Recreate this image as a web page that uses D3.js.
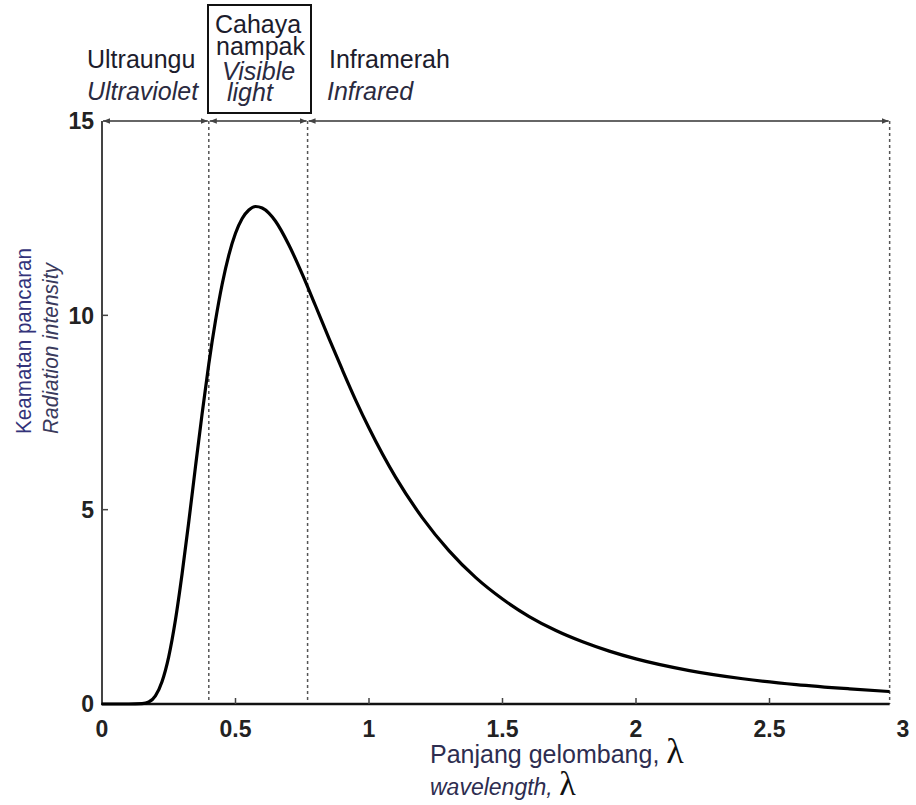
<!DOCTYPE html>
<html>
<head>
<meta charset="utf-8">
<script src="https://cdn.jsdelivr.net/npm/d3@7"></script>
<style>
  html, body { margin: 0; padding: 0; background: #fff; }
  svg { display: block; }
  text { font-family: "Liberation Sans", Arial, sans-serif; }
</style>
</head>
<body>
<svg id="chart" width="916" height="805"></svg>
<script>
// ---- data ----
const wavelength = [0, 0.1, 0.15, 0.175, 0.2, 0.225, 0.25, 0.275, 0.3, 0.325, 0.35, 0.375, 0.4, 0.425, 0.45, 0.475,
  0.5, 0.525, 0.55, 0.575, 0.6, 0.625, 0.65, 0.7, 0.75, 0.8, 0.85, 0.9, 0.95, 1.0, 1.1, 1.2, 1.3, 1.4, 1.5,
  1.6, 1.7, 1.8, 1.9, 2.0, 2.2, 2.4, 2.6, 2.8, 2.95];
const intensity = [0, 0, 0.01, 0.05, 0.21, 0.58, 1.22, 2.16, 3.35, 4.69, 6.10, 7.47, 8.75, 9.86, 10.80, 11.55,
  12.11, 12.49, 12.71, 12.80, 12.76, 12.63, 12.42, 11.81, 11.06, 10.24, 9.41, 8.60, 7.82, 7.10, 5.83, 4.79, 3.94, 3.25, 2.70,
  2.25, 1.89, 1.60, 1.36, 1.16, 0.86, 0.65, 0.50, 0.39, 0.32];
const xTicks = [0, 0.5, 1, 1.5, 2, 2.5, 3];
const xTickLabels = ["0", "0.5", "1", "1.5", "2", "2.5", "3"];
const yTicks = [0, 5, 10, 15];
const yTickLabels = ["0", "5", "10", "15"];
const bandEdges = [0, 0.4, 0.77, 2.95];          // region boundaries
const bandLabels = [
  { main: "Ultraungu", en: "Ultraviolet" },
  { main: ["Cahaya", "nampak"], en: ["Visible", "light"] },
  { main: "Inframerah", en: "Infrared" }
];
const xTitle = ["Panjang gelombang, ", "wavelength, "];
const yTitle = ["Keamatan pancaran", "Radiation intensity"];

// ---- scales ----
const svg = d3.select("#chart");
const x = d3.scaleLinear().domain([0, 3]).range([102, 903]);
const y = d3.scaleLinear().domain([0, 15]).range([704, 121]);
const xEnd = bandEdges[bandEdges.length - 1];

// arrow marker
const defs = svg.append("defs");
defs.append("marker")
  .attr("id", "arr").attr("viewBox", "0 0 10 10")
  .attr("refX", 10).attr("refY", 5)
  .attr("markerWidth", 7).attr("markerHeight", 7)
  .attr("markerUnits", "userSpaceOnUse")
  .attr("orient", "auto-start-reverse")
  .append("path").attr("d", "M0,1 L10,5 L0,9 Z").attr("fill", "#444");

// ---- dashed region boundaries ----
svg.append("g").selectAll("line").data(bandEdges.slice(1)).join("line")
  .attr("x1", d => x(d)).attr("x2", d => x(d))
  .attr("y1", y(15)).attr("y2", y(0))
  .attr("stroke", "#555").attr("stroke-width", 1.5)
  .attr("stroke-dasharray", "3,3");

// ---- double arrows along the top ----
const segs = d3.pairs(bandEdges);
svg.append("g").selectAll("line").data(segs).join("line")
  .attr("x1", d => x(d[0]) + 1).attr("x2", d => x(d[1]) - 1)
  .attr("y1", y(15)).attr("y2", y(15))
  .attr("stroke", "#666").attr("stroke-width", 2)
  .attr("marker-start", "url(#arr)").attr("marker-end", "url(#arr)");

// ---- axes ----
const axG = svg.append("g");
axG.append("line").attr("x1", x(0)).attr("x2", x(0)).attr("y1", y(15)).attr("y2", y(0))
  .attr("stroke", "#444").attr("stroke-width", 2);
axG.append("line").attr("x1", x(0) - 1).attr("x2", x(xEnd)).attr("y1", y(0)).attr("y2", y(0))
  .attr("stroke", "#111").attr("stroke-width", 2.5);
axG.selectAll(".xt").data(xTicks.filter(d => d > 0 && d < xEnd)).join("line")
  .attr("x1", d => x(d)).attr("x2", d => x(d)).attr("y1", y(0)).attr("y2", y(0) - 6)
  .attr("stroke", "#444").attr("stroke-width", 1.5);
axG.selectAll(".yt").data(yTicks.filter(d => d > 0 && d < 15)).join("line")
  .attr("x1", x(0)).attr("x2", x(0) + 6).attr("y1", d => y(d)).attr("y2", d => y(d))
  .attr("stroke", "#444").attr("stroke-width", 1.5);
axG.selectAll(".xl").data(xTicks).join("text")
  .attr("x", d => x(d)).attr("y", 737)
  .attr("text-anchor", "middle").attr("font-size", 23).attr("font-weight", "bold").attr("fill", "#222")
  .text((d, i) => xTickLabels[i]);
axG.selectAll(".yl").data(yTicks).join("text")
  .attr("x", 94).attr("y", d => y(d)).attr("dy", "0.36em")
  .attr("text-anchor", "end").attr("font-size", 23).attr("font-weight", "bold").attr("fill", "#222")
  .text((d, i) => yTickLabels[i]);

// ---- curve ----
const line = d3.line().x(d => x(d[0])).y(d => y(d[1])).curve(d3.curveMonotoneX);
svg.append("path")
  .datum(wavelength.map((w, i) => [w, intensity[i]]))
  .attr("d", line).attr("fill", "none")
  .attr("stroke", "#000").attr("stroke-width", 3.2).attr("stroke-linejoin", "round");

// ---- region labels ----
const tc = "#1c1c2c";
svg.append("text").attr("x", 87).attr("y", 68).attr("font-size", 25).attr("fill", tc).text(bandLabels[0].main);
svg.append("text").attr("x", 87).attr("y", 100).attr("font-size", 25).attr("font-style", "italic").attr("fill", "#2a2a40").text(bandLabels[0].en);
svg.append("text").attr("x", 329).attr("y", 68).attr("font-size", 25).attr("fill", tc).text(bandLabels[2].main);
svg.append("text").attr("x", 327).attr("y", 100).attr("font-size", 25).attr("font-style", "italic").attr("fill", "#2a2a40").text(bandLabels[2].en);
svg.append("rect").attr("x", 208).attr("y", 5).attr("width", 103).attr("height", 108)
  .attr("fill", "none").attr("stroke", "#111").attr("stroke-width", 2);
svg.append("text").attr("x", 215).attr("y", 33).attr("font-size", 25).attr("fill", tc).text(bandLabels[1].main[0]);
svg.append("text").attr("x", 216).attr("y", 55).attr("font-size", 25).attr("fill", tc).text(bandLabels[1].main[1]);
svg.append("text").attr("x", 222).attr("y", 80).attr("font-size", 25).attr("font-style", "italic").attr("fill", "#2a2a40").text(bandLabels[1].en[0]);
svg.append("text").attr("x", 227).attr("y", 101).attr("font-size", 25).attr("font-style", "italic").attr("fill", "#2a2a40").text(bandLabels[1].en[1]);

// ---- axis titles ----
const t1 = svg.append("text").attr("x", 430).attr("y", 763).attr("font-size", 25).attr("fill", "#2d2d50");
t1.append("tspan").text(xTitle[0]);
t1.append("tspan").attr("font-family", "'Liberation Serif', 'DejaVu Serif', serif").attr("font-size", 36).attr("fill", "#111").text("λ");
const t2 = svg.append("text").attr("x", 430).attr("y", 795).attr("font-size", 23).attr("font-style", "italic").attr("fill", "#2d2d50");
t2.append("tspan").text(xTitle[1]);
t2.append("tspan").attr("font-family", "'Liberation Serif', 'DejaVu Serif', serif").attr("font-style", "normal").attr("font-size", 34).attr("fill", "#111").text("λ");

svg.append("text").attr("transform", "translate(31,434) rotate(-90)")
  .attr("font-size", 22).attr("textLength", 186).attr("lengthAdjust", "spacingAndGlyphs")
  .attr("fill", "#33337a").text(yTitle[0]);
svg.append("text").attr("transform", "translate(58,434) rotate(-90)")
  .attr("font-size", 22).attr("textLength", 171).attr("lengthAdjust", "spacingAndGlyphs")
  .attr("font-style", "italic").attr("fill", "#3a3a5c").text(yTitle[1]);
</script>
</body>
</html>
